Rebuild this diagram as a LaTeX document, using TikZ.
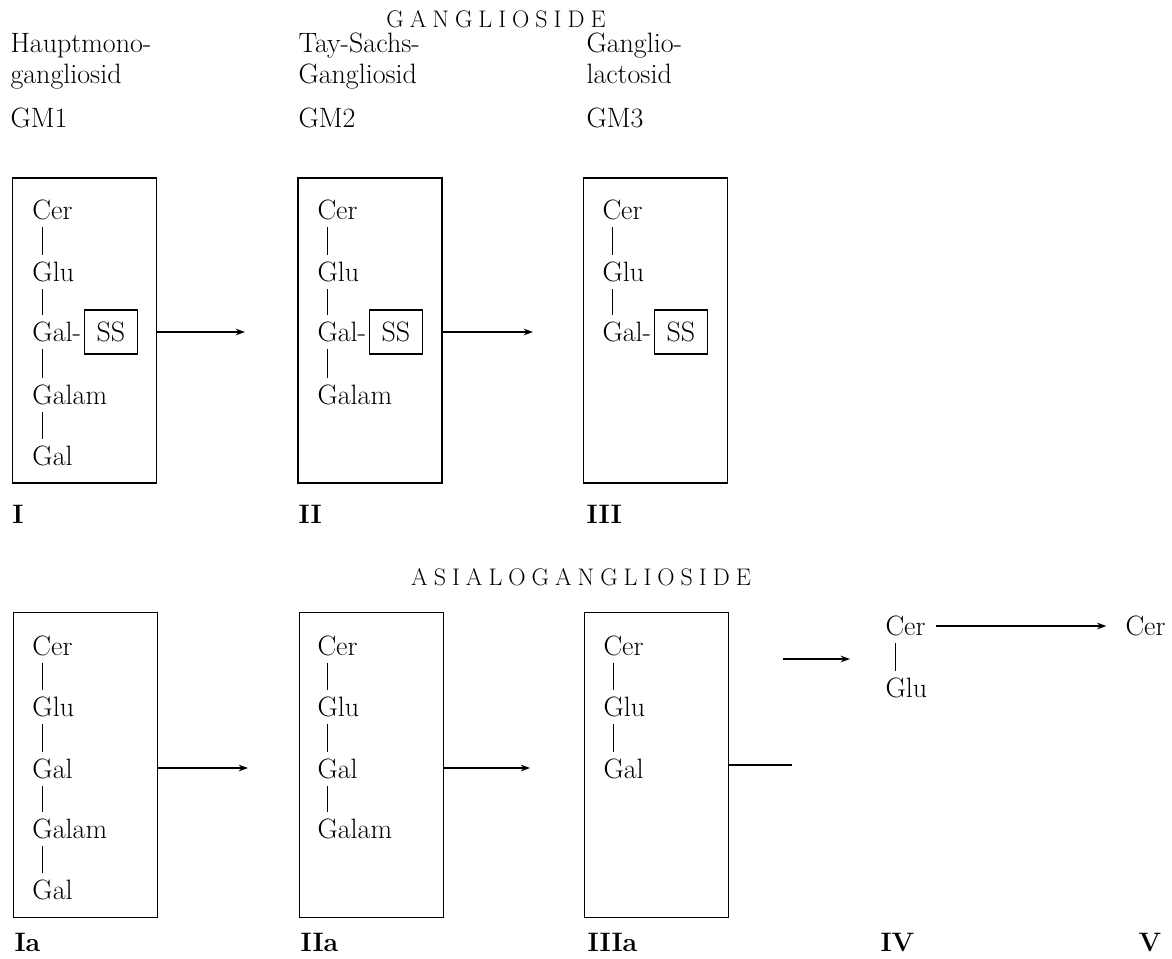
\documentclass[tikz,border=0pt]{standalone}
\usepackage{fontspec}
\usetikzlibrary{arrows.meta}

% letter spaced group titles
\newcommand\spacedttl[1]{\spacedttlloop#1\relax\unskip}
\def\spacedttlloop#1{\ifx\relax#1\else#1\hspace{4.5pt}\expandafter\spacedttlloop\fi}

\tikzset{every picture/.style={line width=0.75pt}}
\tikzset{
  sugar/.style={anchor=west,inner xsep=0pt,inner ysep=5pt,font=\fontsize{21}{25}\selectfont},
  ssbox/.style={draw,line width=1pt,anchor=west,inner sep=0pt,minimum width=40pt,minimum height=33pt,font=\fontsize{21}{25}\selectfont},
  molbox/.style={draw,line width=1.2pt,inner sep=0pt,minimum width=108pt,minimum height=228.75pt},
  headlabel/.style={anchor=base west,inner sep=0pt,font=\fontsize{21}{25}\selectfont},
  numlabel/.style={anchor=base west,inner sep=0pt,font=\bfseries\fontsize{20}{24}\selectfont},
  groupttl/.style={inner sep=0pt,font=\fontsize{18}{21}\selectfont},
  bond/.style={line width=0.6pt},
  reaction/.style={line width=0.9pt,-{Stealth[length=7pt,width=5pt]}}
}

\begin{document}
\begin{tikzpicture}[x=0.75pt,y=0.75pt,yscale=-1,xscale=1]
	\useasboundingbox (0,0) rectangle (1172,958);

	% Titles
	\node[groupttl] (ttlG) at (496,19) {\spacedttl{GANGLIOSIDE}};
	\node[groupttl] (ttlA) at (581,577) {\spacedttl{ASIALOGANGLIOSIDE}};

	% Header Text Nodes
	\node[headlabel] (hdIa) at (10,52) {Hauptmono-};
	\node[headlabel] (hdIb) at (10,83) {gangliosid};
	\node[headlabel] (gmI) at (10,127) {GM1};
	\node[headlabel] (hdIIa) at (298,52) {Tay-Sachs-};
	\node[headlabel] (hdIIb) at (298,83) {Gangliosid};
	\node[headlabel] (gmII) at (298,127) {GM2};
	\node[headlabel] (hdIIIa) at (586,52) {Ganglio-};
	\node[headlabel] (hdIIIb) at (586,83) {lactosid};
	\node[headlabel] (gmIII) at (586,127) {GM3};

	%Shape: Box I
	\node[molbox] (boxI) at (84.5,330.5) {};
	\node[sugar] (cerI) at (32,210) {Cer};
	\node[sugar] (gluI) at (32,272) {Glu};
	\node[sugar] (galI) at (32,332) {Gal-};
	\node[ssbox] (ssI) at ([xshift=1.5pt]galI.east) {SS};
	\node[sugar] (galamI) at (32,395) {Galam};
	\node[sugar] (galtI) at (32,456) {Gal};
	\draw[bond] ([xshift=7.5pt]cerI.south west) -- ([xshift=7.5pt]gluI.north west);
	\draw[bond] ([xshift=7.5pt]gluI.south west) -- ([xshift=7.5pt]galI.north west);
	\draw[bond] ([xshift=7.5pt]galI.south west) -- ([xshift=7.5pt]galamI.north west);
	\draw[bond] ([xshift=7.5pt]galamI.south west) -- ([xshift=7.5pt]galtI.north west);

	%Shape: Box II
	\node[molbox] (boxII) at (370,330.5) {};
	\node[sugar] (cerII) at (317,210) {Cer};
	\node[sugar] (gluII) at (317,272) {Glu};
	\node[sugar] (galII) at (317,332) {Gal-};
	\node[ssbox] (ssII) at ([xshift=1.5pt]galII.east) {SS};
	\node[sugar] (galamII) at (317,395) {Galam};
	\draw[bond] ([xshift=7.5pt]cerII.south west) -- ([xshift=7.5pt]gluII.north west);
	\draw[bond] ([xshift=7.5pt]gluII.south west) -- ([xshift=7.5pt]galII.north west);
	\draw[bond] ([xshift=7.5pt]galII.south west) -- ([xshift=7.5pt]galamII.north west);

	%Shape: Box III
	\node[molbox] (boxIII) at (655.5,330.5) {};
	\node[sugar] (cerIII) at (602,210) {Cer};
	\node[sugar] (gluIII) at (602,272) {Glu};
	\node[sugar] (galIII) at (602,332) {Gal-};
	\node[ssbox] (ssIII) at ([xshift=1.5pt]galIII.east) {SS};
	\draw[bond] ([xshift=7.5pt]cerIII.south west) -- ([xshift=7.5pt]gluIII.north west);
	\draw[bond] ([xshift=7.5pt]gluIII.south west) -- ([xshift=7.5pt]galIII.north west);

	%Straight Lines: arrows of the upper row
	\coordinate (tipI) at (245,332);
	\coordinate (tipII) at (533,332);
	\draw[reaction] (boxI.east |- tipI) -- (tipI);
	\draw[reaction] (boxII.east |- tipII) -- (tipII);

	% Text Node: numbers
	\node[numlabel] (nrI) at (12,523) {I};
	\node[numlabel] (nrII) at (298,523) {II};
	\node[numlabel] (nrIII) at (586,523) {III};

	%Shape: Box Ia
	\node[molbox] (boxIa) at (85.5,765) {};
	\node[sugar] (cerIa) at (32,646) {Cer};
	\node[sugar] (gluIa) at (32,707) {Glu};
	\node[sugar] (galIa) at (32,769) {Gal};
	\node[sugar] (galamIa) at (32,829) {Galam};
	\node[sugar] (galtIa) at (32,890) {Gal};
	\draw[bond] ([xshift=7.5pt]cerIa.south west) -- ([xshift=7.5pt]gluIa.north west);
	\draw[bond] ([xshift=7.5pt]gluIa.south west) -- ([xshift=7.5pt]galIa.north west);
	\draw[bond] ([xshift=7.5pt]galIa.south west) -- ([xshift=7.5pt]galamIa.north west);
	\draw[bond] ([xshift=7.5pt]galamIa.south west) -- ([xshift=7.5pt]galtIa.north west);

	%Shape: Box IIa
	\node[molbox] (boxIIa) at (371.5,765) {};
	\node[sugar] (cerIIa) at (317,646) {Cer};
	\node[sugar] (gluIIa) at (317,707) {Glu};
	\node[sugar] (galIIa) at (317,769) {Gal};
	\node[sugar] (galamIIa) at (317,829) {Galam};
	\draw[bond] ([xshift=7.5pt]cerIIa.south west) -- ([xshift=7.5pt]gluIIa.north west);
	\draw[bond] ([xshift=7.5pt]gluIIa.south west) -- ([xshift=7.5pt]galIIa.north west);
	\draw[bond] ([xshift=7.5pt]galIIa.south west) -- ([xshift=7.5pt]galamIIa.north west);

	%Shape: Box IIIa
	\node[molbox] (boxIIIa) at (656.5,765) {};
	\node[sugar] (cerIIIa) at (603,646) {Cer};
	\node[sugar] (gluIIIa) at (603,707) {Glu};
	\node[sugar] (galIIIa) at (603,769) {Gal};
	\draw[bond] ([xshift=7.5pt]cerIIIa.south west) -- ([xshift=7.5pt]gluIIIa.north west);
	\draw[bond] ([xshift=7.5pt]gluIIIa.south west) -- ([xshift=7.5pt]galIIIa.north west);

	% IV and V
	\node[sugar] (cerIV) at (885,626) {Cer};
	\node[sugar] (gluIV) at (885,688) {Glu};
	\draw[bond] ([xshift=8pt]cerIV.south west) -- ([xshift=8pt]gluIV.north west);
	\node[sugar] (cerV) at (1125,626) {Cer};

	%Straight Lines: arrows of the lower row
	\coordinate (tipIa) at (248,768);
	\coordinate (tipIIa) at (530,768);
	\coordinate (endIIIa) at (792,765);
	\coordinate (tailIV) at (783,659);
	\coordinate (tipIV) at (850,659);
	\draw[reaction] (boxIa.east |- tipIa) -- (tipIa);
	\draw[reaction] (boxIIa.east |- tipIIa) -- (tipIIa);
	\draw[line width=0.9pt] (boxIIIa.east |- endIIIa) -- (endIIIa);
	\draw[reaction] (tailIV) -- (tipIV);
	\draw[reaction,shorten <=7.5pt,shorten >=14pt] (cerIV.east) -- (cerV.west);

	% Text Node: numbers
	\node[numlabel] (nrIa) at (14,951) {Ia};
	\node[numlabel] (nrIIa) at (300,951) {IIa};
	\node[numlabel] (nrIIIa) at (587,951) {IIIa};
	\node[numlabel] (nrIV) at (880,951) {IV};
	\node[numlabel] (nrV) at (1138,951) {V};

\end{tikzpicture}
\end{document}
